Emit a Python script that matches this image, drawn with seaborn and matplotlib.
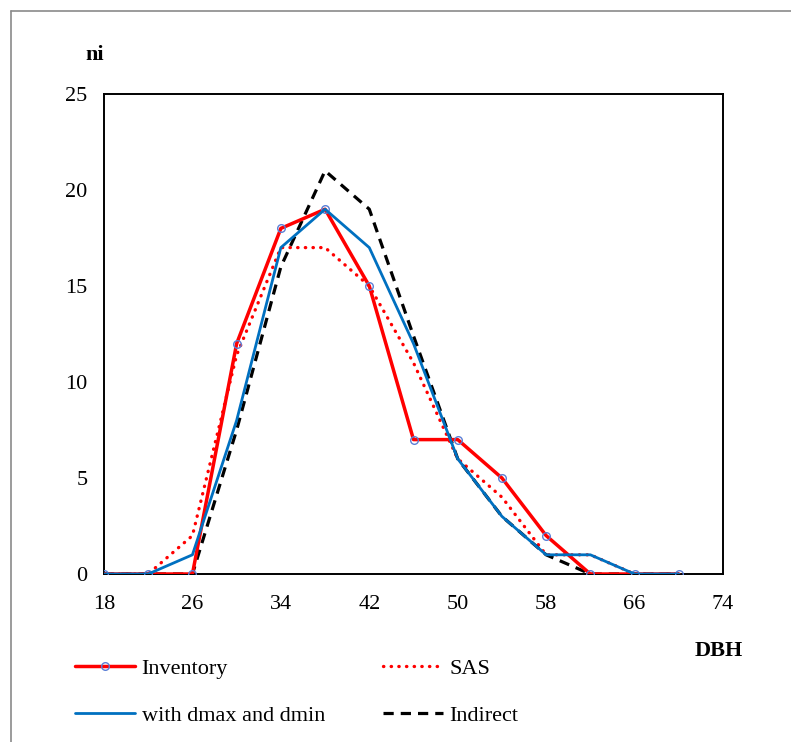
import matplotlib
matplotlib.use("Agg")
import matplotlib.pyplot as plt
from matplotlib.lines import Line2D
import seaborn as sns
import pandas as pd

dbh = [18, 22, 26, 30, 34, 38, 42, 46, 50, 54, 58, 62, 66, 70]
inventory = [0, 0, 0, 12, 18, 19, 15, 7, 7, 5, 2, 0, 0, 0]
sas = [0, 0, 2, 11.4, 17, 17, 15, 11, 6, 4, 1, 1, 0, 0]
with_dmax_dmin = [0, 0, 1, 8, 17, 19, 17, 12, 6, 3, 1, 1, 0, 0]
indirect = [0, 0, 0, 7.5, 16, 21, 19, 12.4, 6, 3, 1, 0, 0, 0]

x_ticks = [18, 26, 34, 42, 50, 58, 66, 74]
y_ticks = [0, 5, 10, 15, 20, 25]

sns.set_theme(style="white")
plt.rcParams['font.family'] = ['Liberation Serif', 'DejaVu Serif']
plt.rcParams['font.size'] = 16
plt.rcParams['text.color'] = 'black'
plt.rcParams['xtick.color'] = 'black'
plt.rcParams['ytick.color'] = 'black'

fig = plt.figure(figsize=(7.91, 7.42), dpi=100)
ax = fig.add_axes([104 / 791, 1 - 574 / 742, (723 - 104) / 791, (574 - 94) / 742])

df = pd.DataFrame({"DBH": dbh, "Inventory": inventory, "SAS": sas,
                   "dmm": with_dmax_dmin, "Indirect": indirect})

sns.lineplot(data=df, x="DBH", y="SAS", ax=ax, color="#FF0000", linewidth=2.4,
             linestyle=(0, (0.1, 2.2)), dash_capstyle="round", zorder=3)
sns.lineplot(data=df, x="DBH", y="Indirect", ax=ax, color="black", linewidth=2.3,
             linestyle=(0, (3.2, 2.2)), zorder=3)
sns.lineplot(data=df, x="DBH", y="Inventory", ax=ax, color="#FF0000", linewidth=2.5,
             marker="o", markersize=5.5, markerfacecolor="none",
             markeredgecolor="#5B7FD6", markeredgewidth=1.0, zorder=4)
sns.lineplot(data=df, x="DBH", y="dmm", ax=ax, color="#0070C0", linewidth=2.0, zorder=5)

ax.set_xlim(18, 74)
ax.set_ylim(0, 25)
ax.set_xticks(x_ticks)
ax.set_yticks(y_ticks)
ax.set_xticklabels([str(t) for t in x_ticks])
ax.set_yticklabels([str(t) for t in y_ticks])
ax.tick_params(axis='both', length=0, labelsize=16, colors='black')
ax.tick_params(axis='y', pad=12)
ax.tick_params(axis='x', pad=15)
ax.set_xlabel("")
ax.set_ylabel("")
for s in ax.spines.values():
    s.set_visible(True)
    s.set_color("black")
    s.set_linewidth(1.4)
ax.grid(False)

fig.text(95 / 791, 1 - 55 / 742, "ni", ha="center", va="center",
         fontsize=16, fontweight="bold", color="black")
fig.text(719 / 791, 1 - 651 / 742, "DBH", ha="center", va="center",
         fontsize=16, fontweight="bold", color="black")

handles = [
    Line2D([], [], color="#FF0000", linewidth=2.5, marker="o", markersize=5.5,
           markerfacecolor="none", markeredgecolor="#5B7FD6", markeredgewidth=1.0),
    Line2D([], [], color="#0070C0", linewidth=2.0),
    Line2D([], [], color="#FF0000", linewidth=2.4, linestyle=(0, (0.1, 2.2)),
           dash_capstyle="round"),
    Line2D([], [], color="black", linewidth=2.3, linestyle=(0, (3.2, 2.2))),
]
labels = ["Inventory", "with dmax and dmin", "SAS", "Indirect"]
fig.legend(handles, labels, ncol=2, frameon=False, fontsize=16,
           loc="upper left", bbox_to_anchor=(75 / 791, 1 - 658 / 742),
           handlelength=2.7, handletextpad=0.3, columnspacing=2.6,
           labelspacing=1.2, borderaxespad=0, borderpad=0)

fig.add_artist(Line2D([11 / 791, 11 / 791], [0, 1 - 11 / 742],
                      transform=fig.transFigure, color="#8a8a8a", linewidth=1.2))
fig.add_artist(Line2D([11 / 791, 1], [1 - 11 / 742, 1 - 11 / 742],
                      transform=fig.transFigure, color="#8a8a8a", linewidth=1.2))

fig.savefig("out.png", dpi=100)
